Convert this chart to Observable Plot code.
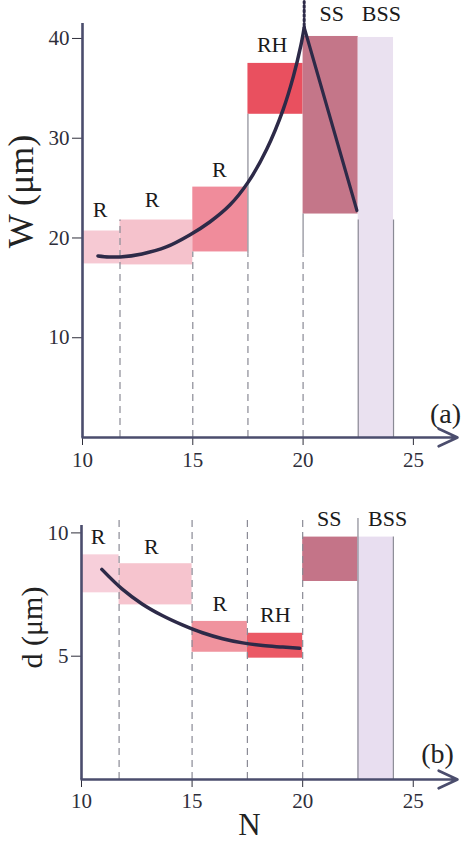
<!DOCTYPE html>
<html><head><meta charset="utf-8">
<script src="https://cdn.jsdelivr.net/npm/d3@7"></script>
<script src="https://cdn.jsdelivr.net/npm/@observablehq/plot@0.6"></script>
<style>
html,body{margin:0;padding:0;background:#fff;}
#chart{width:463px;height:841px;overflow:hidden;}
#chart svg{display:block;}
</style></head><body><div id="chart"></div>
<script>
// regimes (same N ranges in both panels)
const regimes = ["R","R","R","RH","SS","BSS"];
const nStart = [10, 11.7, 15, 17.5, 20, 22.5];
const nEnd   = [11.7, 15, 17.5, 20, 22.5, 24.1];
// panel (a): W ranges
const wLow  = [17.4, 17.3, 18.6, 32.4, 22.4, 0];
const wHigh = [20.7, 21.8, 25.1, 37.5, 40.2, 40.1];
const wLabelN = [10.8, 13.16, 16.2, 18.6, 21.3, 23.55];
const wLabelW = [22.1, 23.1, 26.1, 38.6, 41.8, 41.8];
const wColors = ["#f6c9d3","#f5c2cc","#f08c9b","#e9505f","#c47689","#eae1f0"];
// panel (b): d ranges
const dLow  = [7.57, 7.08, 5.16, 4.92, 8.03, 0];
const dHigh = [9.11, 8.75, 6.41, 5.93, 9.83, 9.83];
const dLabelN = [10.75, 13.16, 16.25, 18.76, 21.2, 23.84];
const dLabelD = [9.57, 9.16, 6.85, 6.38, 10.3, 10.3];
const dColors = ["#f7cfda","#f6c4ce","#f0939e","#eb5965","#c47488","#e8def0"];
// fitted curves
const wRiseN = [10.7, 11.2, 11.7, 12.7, 13.8, 14.86, 15.77, 16.68, 17.51, 18.35, 19.1, 19.56, 19.9, 20.05];
const wRiseW = [18.2, 18.1, 18.1, 18.4, 19.1, 20.3, 21.6, 23.3, 25.6, 28.9, 32.9, 36.2, 39.3, 41.1];
const wFallN = [20.05, 22.44];
const wFallW = [41.1, 22.75];
const wDotN = [20.05, 20.05];
const wDotW = [41.3, 43.7];
const dCurveN = [10.92, 11.83, 12.74, 13.65, 14.56, 15.47, 16.38, 17.29, 18.2, 19.1, 19.86];
const dCurveD = [8.52, 7.73, 7.12, 6.65, 6.27, 5.95, 5.71, 5.54, 5.43, 5.37, 5.32];
// boundary lines
const dashN = [11.7, 15, 17.5, 20];
const wDashTop = [21.8, 18.6, 18.4, 18.4];
const wEdgeN = [17.5, 20, 22.5, 24.1];
const wEdgeLow = [18.4, 18.4, 0, 0];
const wEdgeHigh = [32.4, 22.4, 21.8, 21.8];
const dDashTop = [10.58, 10.58, 10.58, 10.58];
const dEdgeN = [22.5, 24.1];
const dEdgeHigh = [10.58, 9.83];
// ticks
const xTicks = [10, 15, 20, 25];
const wTicks = [10, 20, 30, 40];
const dTicks = [5, 10];

const FONT = "'Liberation Serif', 'Times New Roman', serif";
const AXIS = "#4b4d6d";
const CURVE = "#2d2a48";
const EDGE = "#8a8a95";

const chartA = Plot.plot({
  width: 463, height: 478,
  marginLeft: 82, marginRight: 6, marginTop: 23, marginBottom: 41,
  x: {domain: [10, 27], ticks: xTicks, tickSize: 8, tickPadding: 7, tickFormat: d => String(d), label: null},
  y: {domain: [0, 41.5], ticks: wTicks, tickSize: 10, tickPadding: 3, tickFormat: d => String(d), label: null},
  color: {type: "identity"},
  style: {fontFamily: FONT, fontSize: "21px", color: "#2e2e3a", background: "#fff", overflow: "visible"},
  marks: [
    Plot.rect(regimes, {x1: nStart, x2: nEnd, y1: wLow, y2: wHigh, fill: wColors}),
    Plot.ruleX(dashN, {x: d => d, y1: 0, y2: wDashTop, stroke: EDGE, strokeWidth: 1.2, strokeDasharray: "7,5"}),
    Plot.ruleX(wEdgeN, {x: d => d, y1: wEdgeLow, y2: wEdgeHigh, stroke: EDGE, strokeWidth: 1.2}),
    Plot.line(wRiseN, {x: wRiseN, y: wRiseW, curve: "catmull-rom", stroke: CURVE, strokeWidth: 3.5, strokeLinecap: "round"}),
    Plot.line(wFallN, {x: wFallN, y: wFallW, stroke: CURVE, strokeWidth: 3.2, strokeLinecap: "round"}),
    Plot.line(wDotN, {x: wDotN, y: wDotW, stroke: CURVE, strokeWidth: 3, strokeDasharray: "2,2.5"}),
    Plot.text(regimes, {x: wLabelN, y: wLabelW, text: d => d, fontSize: 22, fill: "#1a1a1a", textAnchor: "middle", lineAnchor: "bottom"}),
    Plot.ruleX([10], {x: d => d, y1: 0, y2: 41.5, stroke: AXIS, strokeWidth: 2.6}),
    Plot.arrow([0], {x1: 10, x2: 27, y1: 0, y2: 0, stroke: AXIS, strokeWidth: 2.6, headLength: 12, headAngle: 50}),
    Plot.text(["W (μm)"], {text: d => d, frameAnchor: "left", rotate: -90, dx: -50, dy: -39, fontSize: 36, fill: "#222", textAnchor: "middle", lineAnchor: "bottom"}),
    Plot.text(["(a)"], {text: d => d, frameAnchor: "bottom-right", dx: -12, dy: -15, fontSize: 28, fill: "#222", textAnchor: "middle", lineAnchor: "bottom"})
  ]
});

const chartB = Plot.plot({
  width: 463, height: 363,
  marginLeft: 81, marginRight: 6, marginTop: 47, marginBottom: 62,
  x: {domain: [10, 27], ticks: xTicks, tickSize: 8, tickPadding: 6, tickFormat: d => String(d), label: null},
  y: {domain: [0, 10.3], ticks: dTicks, tickSize: 10, tickPadding: 3, tickFormat: d => String(d), label: null},
  color: {type: "identity"},
  style: {fontFamily: FONT, fontSize: "21px", color: "#2e2e3a", background: "#fff", overflow: "visible"},
  marks: [
    Plot.rect(regimes, {x1: nStart, x2: nEnd, y1: dLow, y2: dHigh, fill: dColors}),
    Plot.ruleX(dashN, {x: d => d, y1: 0, y2: dDashTop, stroke: EDGE, strokeWidth: 1.2, strokeDasharray: "7,5"}),
    Plot.ruleX(dEdgeN, {x: d => d, y1: 0, y2: dEdgeHigh, stroke: EDGE, strokeWidth: 1.2}),
    Plot.line(dCurveN, {x: dCurveN, y: dCurveD, curve: "catmull-rom", stroke: CURVE, strokeWidth: 3.5, strokeLinecap: "round"}),
    Plot.text(regimes, {x: dLabelN, y: dLabelD, text: d => d, fontSize: 22, fill: "#1a1a1a", textAnchor: "middle", lineAnchor: "bottom"}),
    Plot.ruleX([10], {x: d => d, y1: 0, y2: 10.3, stroke: AXIS, strokeWidth: 2.6}),
    Plot.arrow([0], {x1: 10, x2: 27, y1: 0, y2: 0, stroke: AXIS, strokeWidth: 2.6, headLength: 12, headAngle: 50}),
    Plot.text(["d (μm)"], {text: d => d, frameAnchor: "left", rotate: -90, dx: -40, dy: -25, fontSize: 30, fill: "#222", textAnchor: "middle", lineAnchor: "bottom"}),
    Plot.text(["(b)"], {text: d => d, frameAnchor: "bottom-right", dx: -20, dy: -17, fontSize: 28, fill: "#222", textAnchor: "middle", lineAnchor: "bottom"}),
    Plot.text(["N"], {text: d => d, frameAnchor: "bottom", dx: -20, dy: 55, fontSize: 31, fill: "#222", textAnchor: "middle", lineAnchor: "bottom"})
  ]
});

const holder = document.getElementById("chart");
holder.appendChild(chartA);
holder.appendChild(chartB);
</script>
</body></html>
